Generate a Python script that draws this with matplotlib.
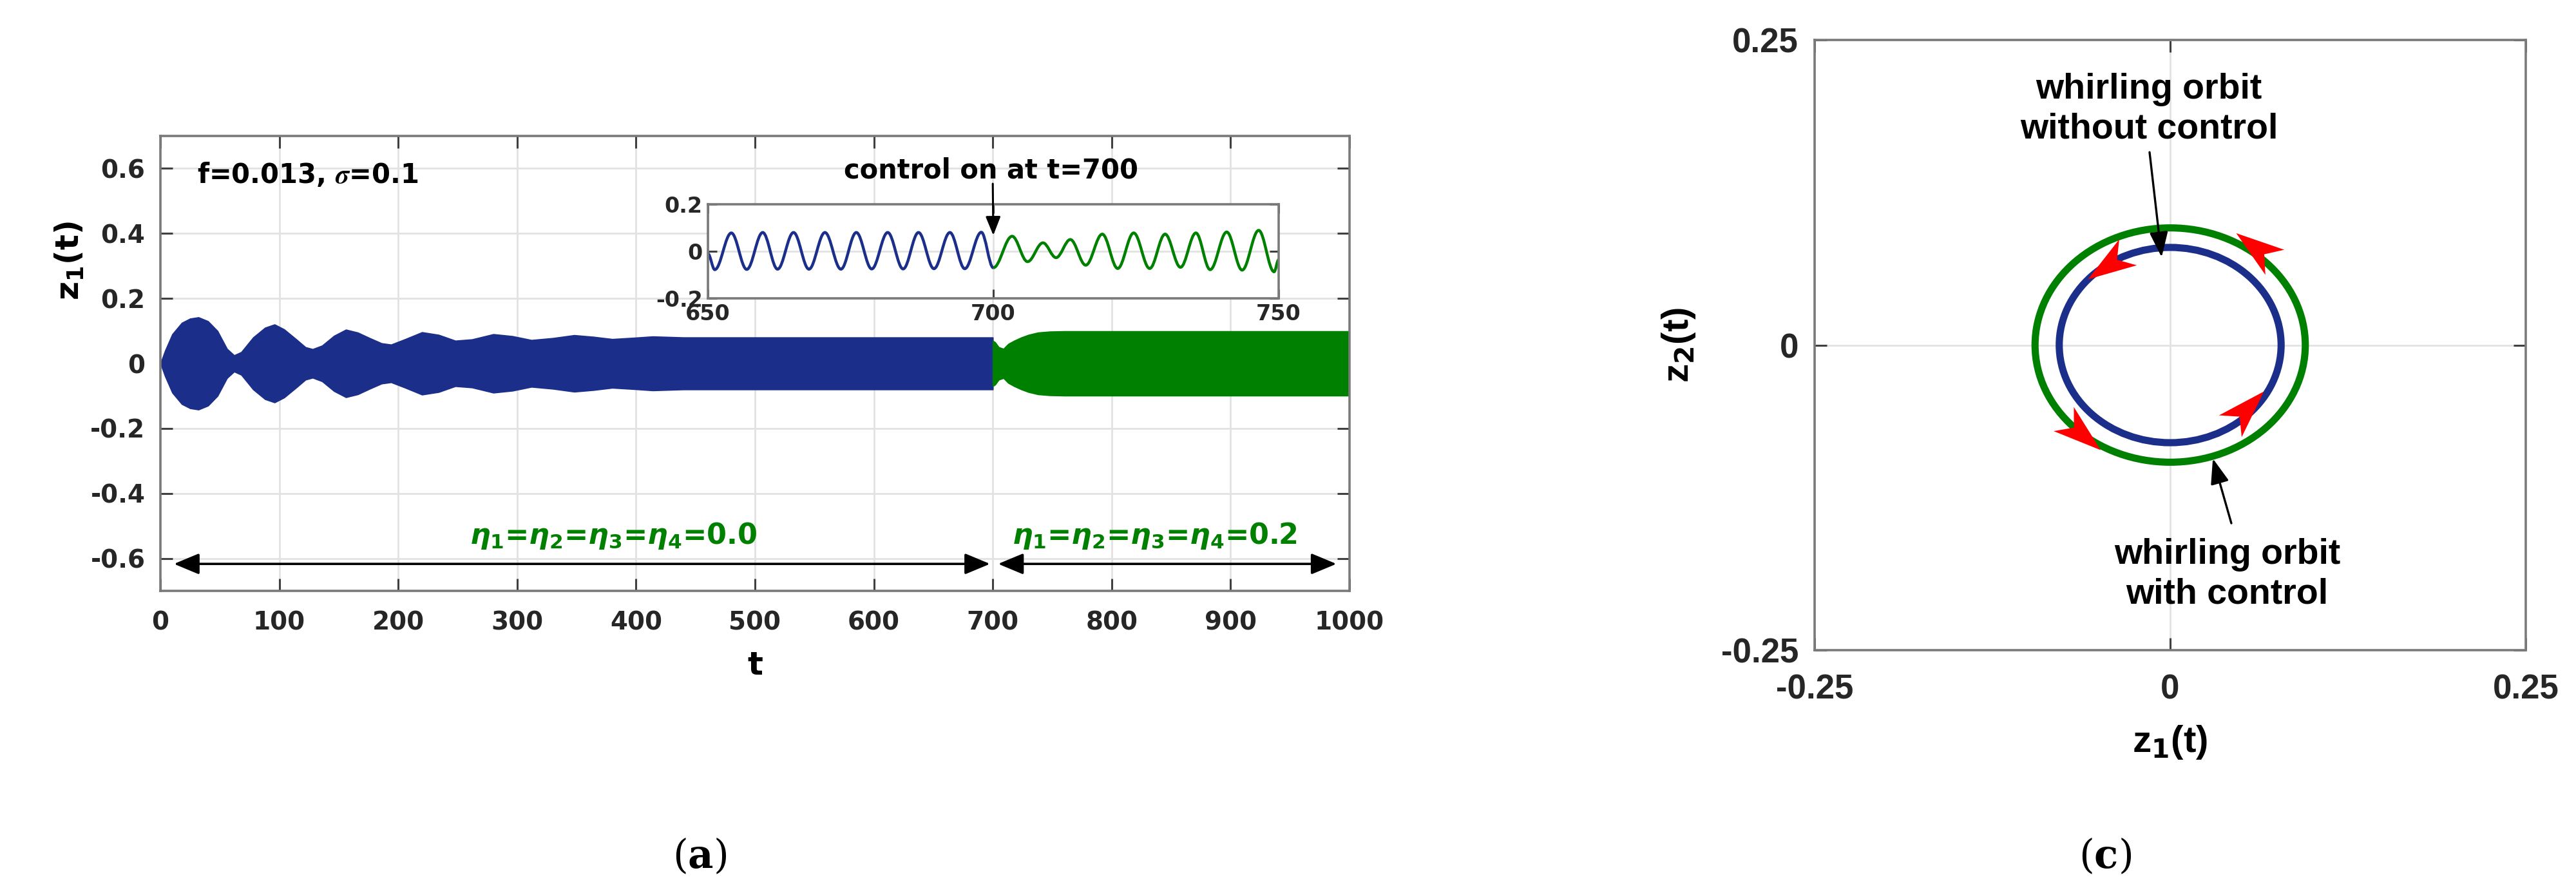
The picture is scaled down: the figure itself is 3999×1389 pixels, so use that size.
import numpy as np
import matplotlib
matplotlib.use("Agg")
import matplotlib.pyplot as plt
from matplotlib.path import Path
from matplotlib.patches import PathPatch, Ellipse
from matplotlib.markers import MarkerStyle
from matplotlib.transforms import Affine2D
from matplotlib.ticker import FuncFormatter

plt.rcParams['font.family'] = ['Liberation Sans', 'DejaVu Sans']
plt.rcParams['font.weight'] = 'bold'
plt.rcParams['axes.labelweight'] = 'bold'
plt.rcParams['mathtext.fontset'] = 'custom'
plt.rcParams['mathtext.rm'] = 'DejaVu Sans:bold'
plt.rcParams['mathtext.it'] = 'DejaVu Sans:italic:bold'
plt.rcParams['mathtext.bf'] = 'DejaVu Sans:bold'

BLUE = '#1b2e8a'
GREEN = '#008000'
RED = '#ff0000'
WIDE = 'DejaVu Sans'   # left panel text is drawn wider in the original

# ---- panel (a): envelope of z1(t) ----
t_blue = [0, 4, 10, 18, 25, 32, 40, 48, 56, 62, 68, 78, 88, 96, 104, 114, 122,
          128, 136, 146, 156, 166, 176, 186, 194, 206, 220, 234, 248, 262, 280,
          296, 312, 330, 348, 364, 380, 398, 414, 440, 700]
amp_blue = [0.0, 0.04, 0.09, 0.125, 0.138, 0.142, 0.13, 0.10, 0.045, 0.025,
            0.035, 0.08, 0.11, 0.12, 0.105, 0.075, 0.05, 0.044, 0.055, 0.085,
            0.104, 0.095, 0.078, 0.062, 0.058, 0.075, 0.096, 0.088, 0.07, 0.074,
            0.09, 0.084, 0.072, 0.078, 0.087, 0.082, 0.075, 0.079, 0.083, 0.08,
            0.08]
t_green = [700, 702, 705, 709, 713, 718, 724, 730, 738, 748, 760, 1000]
amp_green = [0.07, 0.065, 0.05, 0.045, 0.06, 0.07, 0.08, 0.088, 0.095, 0.098,
             0.099, 0.099]

# inset: extrema of z1(t) for 650 <= t <= 750
ins_t_blue = [650, 651.2, 654.1, 656.8, 659.6, 662.2, 665.0, 667.7, 670.5, 673.3,
              676.0, 678.7, 681.5, 684.2, 686.9, 689.6, 692.4, 695.0, 697.9, 700]
ins_z_blue = [-0.01, -0.078, 0.078, -0.077, 0.08, -0.076, 0.08, -0.076, 0.08,
              -0.076, 0.08, -0.075, 0.08, -0.075, 0.08, -0.074, 0.08, -0.074,
              0.081, -0.07]
ins_t_green = [700, 703.3, 706.0, 708.7, 711.0, 713.5, 716.2, 719.1, 721.8, 724.6,
               727.4, 730.1, 732.8, 735.5, 738.0, 740.9, 743.6, 746.5, 749.2, 750]
ins_z_green = [-0.07, 0.064, -0.044, 0.036, -0.027, 0.05, -0.059, 0.073, -0.073,
               0.078, -0.073, 0.073, -0.068, 0.078, -0.078, 0.082, -0.08, 0.089,
               -0.087, -0.036]

# ---- panel (c): whirling orbits ----
orbit_rx = [0.078, 0.095]   # without control, with control
orbit_ry = [0.080, 0.096]
orbit_col = [BLUE, GREEN]
arr_x = [-0.044, 0.060, -0.062, 0.054]
arr_y = [0.065, 0.080, -0.073, -0.052]
arr_dir = [214, 143, 320, 46]


def smooth_path(ts, zs):
    verts = [(ts[0], zs[0])]
    codes = [Path.MOVETO]
    for i in range(len(ts) - 1):
        d = 0.36 * (ts[i + 1] - ts[i])
        verts += [(ts[i] + d, zs[i]), (ts[i + 1] - d, zs[i + 1]), (ts[i + 1], zs[i + 1])]
        codes += [Path.CURVE4] * 3
    return Path(verts, codes)


def matlab_style(a, lsize, xpad, ypad, family):
    for s in a.spines.values():
        s.set_color('#7a7a7a')
        s.set_linewidth(1.3)
    a.tick_params(direction='in', top=True, right=True, length=7, width=1.1,
                  color='#404040', labelcolor='#262626', labelsize=lsize,
                  labelfontfamily=family)
    a.tick_params(axis='x', pad=xpad)
    a.tick_params(axis='y', pad=ypad)
    a.grid(True, color='#e2e2e2', lw=1.0)
    a.set_axisbelow(True)
    fmt = FuncFormatter(lambda v, p: '%g' % round(v, 4))
    a.xaxis.set_major_formatter(fmt)
    a.yaxis.set_major_formatter(fmt)


W, H = 3999, 1389
fig = plt.figure(figsize=(W / 200, H / 200), dpi=200)

ax = fig.add_axes([249 / W, 1 - 917 / H, 1846 / W, 706 / H])
axin = fig.add_axes([1099 / W, 1 - 463 / H, 886 / W, 146 / H])
axc = fig.add_axes([2817 / W, 1 - 1009 / H, 1104 / W, 947 / H])

# panel (a)
ax.fill_between(t_blue, np.negative(amp_blue), amp_blue, color=BLUE, lw=0.6)
ax.fill_between(t_green, np.negative(amp_green), amp_green, color=GREEN, lw=0.6)
ax.set_xlim(0, 1000)
ax.set_ylim(-0.7, 0.7)
ax.set_xticks(np.arange(0, 1001, 100))
ax.set_yticks([-0.6, -0.4, -0.2, 0, 0.2, 0.4, 0.6])
matlab_style(ax, 14, 11, 8.5, WIDE)
ax.set_xlabel('t', fontsize=18, family=WIDE)
ax.xaxis.set_label_coords(0.5, -0.13)
ax.set_ylabel('z$_1$(t)', fontsize=18, family=WIDE)
ax.yaxis.set_label_coords(-0.063, 0.725)

ax.text(31, 0.58, r'f=0.013, $\sigma$=0.1', fontsize=15, va='center',
        family=WIDE, math_fontfamily='stix')
ax.text(575, 0.593, 'control on at t=700', fontsize=15, va='center', ha='left',
        family=WIDE)
ax.text(381, -0.53, r'$\eta_1$=$\eta_2$=$\eta_3$=$\eta_4$=0.0', fontsize=16,
        color=GREEN, ha='center', va='center', family=WIDE)
ax.text(836, -0.53, r'$\eta_1$=$\eta_2$=$\eta_3$=$\eta_4$=0.2', fontsize=16,
        color=GREEN, ha='center', va='center', family=WIDE)
dbl = dict(arrowstyle='<|-|>,head_length=0.6,head_width=0.25', color='black',
           lw=1.3, shrinkA=0, shrinkB=0, mutation_scale=20)
ax.annotate('', xy=(697.7, -0.617), xytext=(11.4, -0.617), arrowprops=dbl)
ax.annotate('', xy=(989, -0.617), xytext=(704.5, -0.617), arrowprops=dbl)

# inset
axin.add_patch(PathPatch(smooth_path(ins_t_blue, ins_z_blue), fill=False,
                         edgecolor=BLUE, lw=1.6))
axin.add_patch(PathPatch(smooth_path(ins_t_green, ins_z_green), fill=False,
                         edgecolor=GREEN, lw=1.6))
axin.set_xlim(650, 750)
axin.set_ylim(-0.2, 0.2)
axin.set_xticks([650, 700, 750])
axin.set_yticks([-0.2, 0, 0.2])
matlab_style(axin, 12, 3, 3, WIDE)
axin.tick_params(length=5)
axin.annotate('', xy=(700, 0.068), xytext=(700, 0.553), textcoords=ax.transData,
              annotation_clip=False,
              arrowprops=dict(arrowstyle='-|>,head_length=0.55,head_width=0.22',
                              color='black', lw=1.1, shrinkA=0, shrinkB=0,
                              mutation_scale=16))

# panel (c)
for rx, ry, c in zip(orbit_rx, orbit_ry, orbit_col):
    axc.add_patch(Ellipse((0, 0), 2 * rx, 2 * ry, fill=False, edgecolor=c, lw=4))
head = Path([(1, 0), (-1, 0.65), (-0.45, 0), (-1, -0.65), (1, 0)],
            [Path.MOVETO, Path.LINETO, Path.LINETO, Path.LINETO, Path.CLOSEPOLY])
for x, y, d in zip(arr_x, arr_y, arr_dir):
    axc.plot(x, y, ls='none', color=RED, ms=27, mew=0, zorder=5,
             marker=MarkerStyle(head, transform=Affine2D().rotate_deg(d)))
axc.set_xlim(-0.25, 0.25)
axc.set_ylim(-0.25, 0.25)
axc.set_xticks([-0.25, 0, 0.25])
axc.set_yticks([-0.25, 0, 0.25])
matlab_style(axc, 19, 13, 9, 'Liberation Sans')
axc.set_xlabel('z$_1$(t)', fontsize=21)
axc.xaxis.set_label_coords(0.5, -0.12)
axc.set_ylabel('z$_2$(t)', fontsize=21)
axc.yaxis.set_label_coords(-0.165, 0.5)

arr1 = dict(arrowstyle='-|>,head_length=0.6,head_width=0.22', color='black',
            lw=1.2, shrinkA=0, shrinkB=0, mutation_scale=20)
axc.text(-0.015, 0.193, 'whirling orbit\nwithout control', fontsize=20,
         ha='center', va='center', linespacing=1.25)
axc.annotate('', xy=(-0.006, 0.072), xytext=(-0.0145, 0.158), arrowprops=arr1)
axc.text(0.04, -0.188, 'whirling orbit\nwith control', fontsize=20,
         ha='center', va='center', linespacing=1.25)
axc.annotate('', xy=(0.030, -0.093), xytext=(0.043, -0.146), arrowprops=arr1)

fig.text(1086 / W, 1 - 1330 / H, r'($\mathbf{a}$)', fontsize=22, ha='center',
         va='center', family='DejaVu Serif', fontweight='normal',
         math_fontfamily='dejavuserif')
fig.text(3268 / W, 1 - 1330 / H, r'($\mathbf{c}$)', fontsize=22, ha='center',
         va='center', family='DejaVu Serif', fontweight='normal',
         math_fontfamily='dejavuserif')

fig.savefig('out.png', dpi=200, facecolor='white')
